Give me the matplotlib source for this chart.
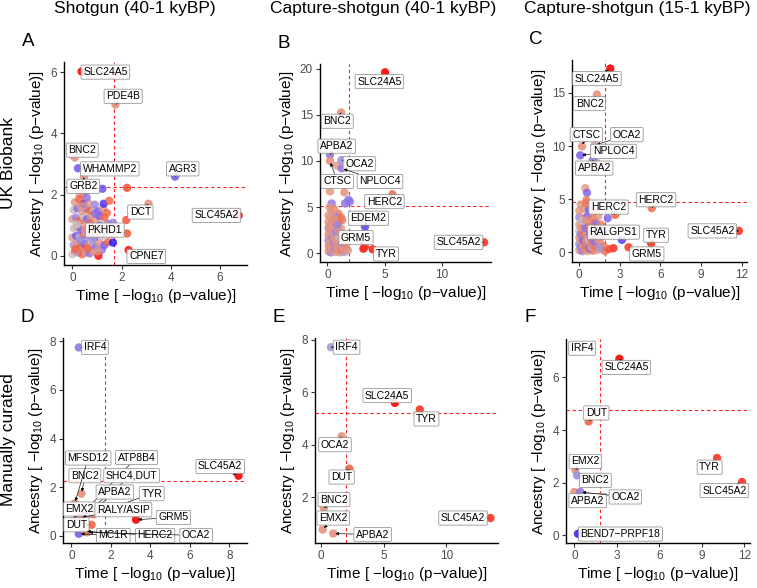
import matplotlib
matplotlib.use('Agg')
import matplotlib.pyplot as plt
from matplotlib.colors import LinearSegmentedColormap

plt.rcParams['font.family'] = ['Liberation Sans', 'DejaVu Sans']
plt.rcParams['mathtext.default'] = 'regular'

# ---------------- DATA ----------------
col_titles = ["Shotgun (40-1 kyBP)", "Capture-shotgun (40-1 kyBP)", "Capture-shotgun (15-1 kyBP)"]
row_titles = ["UK Biobank", "Manually curated"]
panel_letters = ["A", "B", "C", "D", "E", "F"]

# Panel A : UK Biobank, shotgun 40-1 kyBP
a_bg_time = [0.00, 0.10, 0.25, 0.40, 0.55, 0.70, 0.85, 1.06, 1.20,
             0.05, 0.20, 0.35, 0.50, 0.65, 0.80, 0.95, 1.10, 1.30, 1.45,
             0.00, 0.15, 0.30, 0.45, 0.60, 0.75, 0.90, 1.05, 1.20, 1.35, 1.55,
             0.05, 0.20, 0.35, 0.50, 0.65, 0.80, 0.95, 1.10, 1.25, 1.45, 1.65,
             0.00, 0.15, 0.30, 0.45, 0.60, 0.75, 0.95, 1.10, 1.30,
             0.05, 0.20, 0.40, 0.55, 0.70, 0.90, 1.05, 1.25, 1.40,
             0.10, 0.44, 0.65, 0.91, 1.27, 1.50, 0.45, 1.22, 0.30,
             0.12, 0.32, 0.52, 0.72, 0.92, 0.18, 0.38, 0.62, 0.82, 1.02, 0.28, 0.58,
             2.22, 2.19, 1.65]
a_bg_anc = [0.05, 0.15, 0.10, 0.05, 0.12, 0.08, 0.15, 0.00, 0.20,
            0.35, 0.40, 0.30, 0.38, 0.32, 0.40, 0.30, 0.42, 0.35, 0.45,
            0.60, 0.65, 0.58, 0.70, 0.62, 0.68, 0.60, 0.72, 0.65, 0.75, 0.70,
            0.90, 0.95, 0.85, 0.98, 0.90, 0.95, 0.88, 1.00, 0.95, 1.05, 1.08,
            1.20, 1.25, 1.15, 1.30, 1.20, 1.28, 1.20, 1.30, 1.25,
            1.50, 1.55, 1.45, 1.55, 1.48, 1.50, 1.45, 1.55, 1.40,
            1.75, 1.70, 1.72, 1.67, 1.70, 1.80, 2.05, 2.19, 2.00,
            0.22, 0.50, 0.78, 1.05, 1.38, 1.02, 1.62, 0.25, 0.52, 0.15, 1.85, 1.90,
            2.22, 1.17, 0.43]
a_bg_col = [0.0, 0.4, -0.3, 0.7, 0.4, -0.5, 0.4, 1.0, -0.5,
            -0.3, 0.4, 0.7, -0.6, 0.4, 0.0, -0.5, 0.4, -0.6, 0.7,
            0.4, -0.6, 0.0, 0.7, -0.4, 0.4, -0.6, 0.7, 0.0, -0.6, 0.4,
            0.0, 0.4, -0.6, 0.4, 0.7, -0.5, 0.4, -0.6, 0.7, -0.4, -0.4,
            0.4, -0.4, 0.7, 0.0, -0.6, 0.4, 0.4, -0.6, 0.7,
            0.0, -0.5, 0.4, -0.4, 0.7, 0.0, -0.6, 0.4, 0.7,
            0.4, -0.9, 0.4, -0.4, -0.85, 0.7, 0.7, -0.7, 0.4,
            0.7, -0.4, 0.4, 0.7, -0.5, 0.0, 0.4, 0.7, -0.3, 0.4, 0.7, -0.5,
            0.8, 0.8, -1.0]
a_genes = ["SLC24A5", "PDE4B", "BNC2", "WHAMMP2", "AGR3", "GRB2", "DCT", "SLC45A2", "PKHD1", "CPNE7"]
a_time = [0.375, 1.75, 0.09, 0.23, 4.17, 0.47, 3.09, 6.75, 2.22, 2.28]
a_anc = [6.02, 4.94, 3.21, 2.86, 2.59, 2.57, 1.70, 1.32, 0.73, 0.19]
a_col = [1.0, 0.45, 0.45, -0.6, -0.6, 0.4, 0.45, 1.0, 0.7, 0.9]
a_vline, a_hline = 1.68, 2.24

# Panel B : UK Biobank, capture-shotgun 40-1 kyBP
b_bg_time = [0.15, 0.23, 1.49, 0.38, 1.55, 1.84, 1.98, 0.82, 0.96, 3.00, 3.15,
             0.1, 0.3, 0.5, 0.7, 0.9, 1.1, 1.3, 1.5, 1.8,
             0.1, 0.3, 0.5, 0.7, 0.9, 1.1, 1.3, 1.6,
             0.1, 0.3, 0.5, 0.7, 0.9, 1.1, 1.3,
             0.1, 0.3, 0.5, 0.7, 0.9, 1.2, 1.5,
             0.1, 0.3, 0.6, 0.9, 1.2,
             0.1, 0.4, 0.7, 1.0, 1.3,
             0.1, 0.4, 0.7, 1.2,
             0.2, 0.6,
             0.2, 0.4, 0.6, 0.8, 1.0, 1.2, 1.4,
             0.2, 0.4, 0.6, 0.8, 1.0, 1.2, 1.45,
             0.2, 0.4, 0.6, 0.8, 1.0, 1.25,
             0.2, 0.45, 0.75, 1.0,
             0.2, 0.55, 0.85, 0.25, 0.55, 0.35]
b_bg_anc = [7.7, 6.7, 6.6, 5.4, 5.4, 5.8, 5.6, 9.5, 4.3, 3.8, 0.5,
            0.2, 0.1, 0.3, 0.15, 0.2, 0.1, 0.25, 0.15, 0.3,
            0.8, 0.7, 0.9, 0.8, 0.6, 0.85, 0.7, 0.9,
            1.4, 1.5, 1.3, 1.5, 1.4, 1.3, 1.5,
            2.0, 2.1, 2.2, 2.0, 2.2, 2.1, 2.0,
            2.7, 2.8, 2.6, 2.8, 2.7,
            3.4, 3.3, 3.5, 3.3, 3.6,
            4.1, 4.2, 4.0, 3.9,
            5.0, 4.8,
            0.5, 0.45, 0.55, 0.4, 0.5, 0.45, 0.5,
            1.1, 1.0, 1.15, 1.1, 1.05, 1.1, 1.2,
            1.75, 1.8, 1.7, 1.75, 1.8, 1.7,
            2.4, 2.45, 2.35, 2.45,
            3.1, 3.0, 3.1, 3.8, 3.75, 4.6]
b_bg_col = [0.4, 0.45, 0.5, -0.5, -0.5, -0.5, -0.5, 0.4, 0.6, -0.35, 1.0,
            0.4, -0.4, 0.45, 0.4, 0.0, 0.45, 0.4, -0.3, 0.4,
            0.4, -0.5, 0.0, 0.4, -0.4, 0.45, 0.4, 0.6,
            -0.4, 0.4, 0.45, -0.4, 0.4, 0.0, 0.45,
            0.45, 0.0, -0.5, 0.4, 0.45, -0.4, 0.6,
            -0.4, 0.45, 0.4, -0.5, 0.4,
            0.4, -0.4, 0.45, 0.4, 0.6,
            0.45, 0.0, -0.4, 0.6,
            0.4, 0.45,
            0.45, 0.4, -0.4, 0.45, 0.4, 0.6, 0.4,
            0.4, 0.45, -0.4, 0.4, 0.45, -0.3, 0.6,
            0.45, -0.4, 0.4, 0.45, 0.0, 0.4,
            0.4, 0.45, -0.4, 0.4,
            0.45, 0.4, -0.4, 0.4, 0.45, 0.45]
b_genes = ["SLC24A5", "BNC2", "APBA2", "CTSC", "OCA2", "NPLOC4", "HERC2", "EDEM2", "GRM5", "TYR", "SLC45A2"]
b_time = [5.04, 1.20, 0.23, 0.23, 1.25, 1.25, 5.69, 3.29, 3.29, 3.97, 13.7]
b_anc = [19.6, 15.26, 10.67, 10.0, 10.1, 9.2, 6.4, 2.89, 0.72, 0.43, 1.19]
b_col = [1.0, 0.45, -0.45, 0.45, -0.35, -0.45, 0.6, -0.7, 0.85, 0.9, 0.85]
b_vline, b_hline = 1.92, 5.17

# Panel C : UK Biobank, capture-shotgun 15-1 kyBP
c_bg_time = [0.44, 0.57, 0.52, 1.30, 1.18, 2.53, 2.10, 1.80,
             0.0, 0.2, 0.4, 0.6, 0.8, 1.0, 1.3, 1.6, 1.9, 2.2,
             0.0, 0.2, 0.4, 0.6, 0.8, 1.0, 1.2, 1.5, 1.8,
             0.0, 0.2, 0.4, 0.6, 0.8, 1.0, 1.3, 1.6,
             0.0, 0.2, 0.4, 0.7, 0.9, 1.2, 1.5,
             0.0, 0.3, 0.6, 0.9, 1.2, 1.6,
             0.0, 0.3, 0.6, 1.0, 1.4,
             0.0, 0.3, 0.7, 1.1,
             0.1, 0.5,
             0.1, 0.3, 0.5, 0.7, 0.9, 1.15, 1.45,
             0.1, 0.3, 0.5, 0.7, 0.9, 1.1, 1.4,
             0.1, 0.3, 0.55, 0.8, 1.05, 0.15, 0.45, 0.8, 0.2, 0.5]
c_bg_anc = [6.04, 5.6, 4.9, 8.4, 7.6, 0.38, 3.2, 1.8,
            0.2, 0.1, 0.25, 0.1, 0.3, 0.15, 0.2, 0.3, 0.1, 0.3,
            0.8, 0.9, 0.7, 0.9, 0.8, 0.7, 0.9, 0.8, 0.6,
            1.4, 1.5, 1.3, 1.5, 1.4, 1.3, 1.5, 1.4,
            2.0, 2.1, 1.9, 2.1, 2.0, 2.2, 2.0,
            2.6, 2.7, 2.5, 2.7, 2.8, 2.6,
            3.3, 3.2, 3.4, 3.2, 3.4,
            3.9, 4.1, 4.0, 3.9,
            4.5, 4.6,
            0.5, 0.45, 0.55, 0.5, 0.45, 0.55, 0.5,
            1.1, 1.15, 1.05, 1.2, 1.1, 1.05, 1.15,
            1.7, 1.75, 1.7, 1.75, 1.7, 2.35, 2.3, 2.35, 2.95, 3.0]
c_bg_col = [0.4, -0.6, 0.6, 0.45, 0.4, 0.9, -0.6, -0.6,
            0.4, -0.4, 0.6, 0.4, -0.6, 0.6, 0.45, -0.3, 0.6, 0.8,
            -0.4, 0.4, 0.0, -0.6, 0.4, 0.6, -0.5, 0.45, 0.6,
            0.45, -0.6, 0.4, 0.0, 0.6, -0.6, 0.4, 0.6,
            0.0, 0.45, -0.6, 0.4, -0.5, 0.6, -0.6,
            0.4, -0.6, 0.6, 0.45, -0.6, 0.6,
            -0.4, 0.4, -0.6, 0.6, 0.45,
            0.45, 0.4, -0.6, 0.6,
            0.4, 0.6,
            -0.4, 0.45, 0.6, -0.5, 0.4, 0.6, -0.3,
            0.4, -0.6, 0.45, 0.0, 0.6, -0.5, 0.4,
            -0.4, 0.6, 0.4, -0.6, 0.45, 0.4, -0.5, 0.6, 0.0, 0.45]
c_genes = ["SLC24A5", "BNC2", "CTSC", "OCA2", "NPLOC4", "APBA2", "HERC2", "HERC2", "RALGPS1", "TYR", "GRM5", "SLC45A2"]
c_time = [2.29, 1.30, 0.20, 1.13, 0.07, 1.00, 5.36, 2.66, 3.15, 5.31, 3.64, 11.8]
c_anc = [17.3, 14.85, 9.97, 10.06, 9.12, 8.7, 4.15, 3.52, 1.16, 0.85, 0.47, 2.01]
c_col = [1.0, 0.45, 0.45, 0.2, -0.55, -0.45, 0.6, 0.65, -0.7, 0.85, 0.8, 0.85]
c_vline, c_hline = 1.87, 4.72

# Panel D : manually curated, shotgun 40-1 kyBP
d_genes = ["IRF4", "SLC45A2", "GRM5", "BNC2", "MFSD12", "ATP8B4", "SHC4,DUT", "APBA2", "TYR",
           "EMX2", "RALY/ASIP", "DUT", "MC1R", "HERC2", "OCA2"]
d_time = [0.37, 8.47, 3.27, 0.51, 0.17, 0.42, 0.55, 0.93, 1.10, 0.07, 0.45, 1.02, 0.37, 0.68, 0.80]
d_anc = [7.75, 2.47, 0.66, 1.73, 1.34, 0.80, 0.82, 0.91, 0.88, 0.62, 0.75, 0.45, 0.08, 0.18, 0.14]
d_col = [-0.45, 1.0, 1.0, 0.45, 0.45, 0.45, 0.45, -0.45, 0.6, 0.4, 0.45, 0.7, -0.6, 0.45, 0.5]
d_vline, d_hline = 1.69, 2.24

# Panel E : manually curated, capture-shotgun 40-1 kyBP
e_genes = ["IRF4", "SLC24A5", "TYR", "OCA2", "DUT", "BNC2", "EMX2", "APBA2", "SLC45A2"]
e_time = [0.82, 5.90, 7.88, 1.67, 2.28, 0.26, 0.16, 1.00, 13.5]
e_anc = [7.71, 5.59, 5.34, 4.32, 3.09, 1.59, 0.77, 0.62, 1.21]
e_col = [-0.3, 1.0, 0.85, 0.45, 0.7, 0.45, 0.45, 0.45, 0.85]
e_vline, e_hline = 1.98, 5.20

# Panel F : manually curated, capture-shotgun 15-1 kyBP
f_genes = ["IRF4", "SLC24A5", "DUT", "EMX2", "BNC2", "APBA2", "OCA2", "BEND7\u2212PRPF18", "TYR", "SLC45A2"]
f_time = [0.85, 3.18, 1.01, 0.07, 0.19, 0.00, 0.42, 0.26, 10.07, 11.84]
f_anc = [7.11, 6.71, 4.33, 2.49, 2.28, 1.65, 1.65, 0.06, 2.94, 2.03]
f_col = [-0.3, 1.0, 0.7, 0.45, -0.35, 0.45, -0.45, -0.9, 0.85, 0.85]
f_vline, f_hline = 1.84, 4.76

# ---------------- LAYOUT ----------------
W, H = 757, 588
layout = {
    "A": dict(px=(64, 62, 247, 265), xlim=(-0.34, 7.09), ylim=(-0.3, 6.33),
              xt=[0, 2, 4, 6], yt=[0, 2, 4, 6],
              lab=[(1.34, 6.0), (2.06, 5.21), (0.4, 3.45), (1.52, 2.84), (4.48, 2.84), (0.44, 2.27),
                   (2.76, 1.43), (5.85, 1.32), (1.32, 0.84), (3.0, -0.02)]),
    "B": dict(px=(320, 64, 491, 262), xlim=(-0.64, 14.3), ylim=(-0.94, 20.5),
              xt=[0, 5, 10], yt=[0, 5, 10, 15, 20],
              lab=[(4.55, 18.6), (0.87, 14.3), (0.82, 11.6), (0.87, 7.78), (2.8, 9.7), (4.6, 7.78),
                   (4.99, 5.6), (3.59, 3.8), (2.5, 1.7), (5.13, -0.07), (11.46, 1.19)]),
    "C": dict(px=(572, 60, 747, 262), xlim=(-0.54, 12.4), ylim=(-0.92, 18.1),
              xt=[0, 3, 6, 9, 12], yt=[0, 5, 10, 15],
              lab=[(1.3, 16.35), (0.76, 14.0), (0.52, 11.07), (3.52, 11.07), (2.53, 9.5), (1.1, 7.92),
                   (5.68, 4.94), (2.16, 4.25), (2.53, 1.89), (5.68, 1.6), (4.99, -0.16), (9.84, 2.01)]),
    "D": dict(px=(63, 338, 247, 543), xlim=(-0.43, 8.9), ylim=(-0.3, 8.14),
              xt=[0, 2, 4, 6, 8], yt=[0, 2, 4, 6, 8],
              lab=[(1.19, 7.75), (7.54, 2.85), (5.17, 0.75), (0.68, 2.47), (0.85, 3.2), (3.3, 3.22),
                   (3.05, 2.47), (2.2, 1.80), (4.07, 1.73), (0.42, 1.1), (2.63, 1.07), (0.25, 0.45),
                   (2.12, 0.01), (4.24, 0.01), (6.32, 0.01)]),
    "E": dict(px=(315, 338, 498, 543), xlim=(-0.45, 14.1), ylim=(0.26, 8.06),
              xt=[0, 5, 10], yt=[2, 4, 6, 8],
              lab=[(2.06, 7.71), (5.29, 5.87), (8.41, 4.98), (1.14, 4.0), (1.67, 2.77), (1.06, 1.91),
                   (1.0, 1.21), (4.13, 0.58), (11.32, 1.21)]),
    "F": dict(px=(566, 339, 750, 543), xlim=(-0.59, 12.4), ylim=(-0.29, 7.46),
              xt=[0, 3, 6, 9, 12], yt=[0, 2, 4, 6],
              lab=[(0.54, 7.11), (3.67, 6.38), (1.55, 4.65), (0.78, 2.81), (1.48, 2.09), (0.94, 1.32),
                   (3.6, 1.46), (3.25, 0.05), (9.55, 2.59), (10.59, 1.7)]),
}

panels = {
    "A": ((a_bg_time, a_bg_anc, a_bg_col), a_genes, a_time, a_anc, a_col, a_vline, a_hline),
    "B": ((b_bg_time, b_bg_anc, b_bg_col), b_genes, b_time, b_anc, b_col, b_vline, b_hline),
    "C": ((c_bg_time, c_bg_anc, c_bg_col), c_genes, c_time, c_anc, c_col, c_vline, c_hline),
    "D": (None, d_genes, d_time, d_anc, d_col, d_vline, d_hline),
    "E": (None, e_genes, e_time, e_anc, e_col, e_vline, e_hline),
    "F": (None, f_genes, f_time, f_anc, f_col, f_vline, f_hline),
}

cmap = LinearSegmentedColormap.from_list("bgr", [
    (0.0, "#1f10ff"), (0.2, "#7a5ce8"), (0.35, "#a898dc"), (0.5, "#c6bec4"),
    (0.72, "#e5937f"), (0.86, "#f2603e"), (1.0, "#ff0000")])

def colors(vals):
    return [cmap((v + 1) / 2) for v in vals]

fig = plt.figure(figsize=(W / 100, H / 100), dpi=100)

xlabel = "Time [ $-$log$_{10}$ (p$-$value)]"
ylabel = "Ancestry [ $-$log$_{10}$ (p$-$value)]"

for key in panel_letters:
    L = layout[key]
    l, t, r, b = L["px"]
    ax = fig.add_axes([l / W, 1 - b / H, (r - l) / W, (b - t) / H])
    bg, genes, gx, gy, gc, vl, hl = panels[key]
    if bg is not None:
        ax.scatter(bg[0], bg[1], c=colors(bg[2]), s=36, alpha=0.8, edgecolors="none", zorder=2)
    ax.scatter(gx, gy, c=colors(gc), s=36, alpha=0.9, edgecolors="none", zorder=3)
    ax.axvline(vl, color="#ff2020", ls=(0, (3, 2.5)), lw=0.8, zorder=1)
    ax.axhline(hl, color="#ff2020", ls=(0, (3, 2.5)), lw=0.8, zorder=1)
    for i, g in enumerate(genes):
        lx, ly = L["lab"][i]
        ax.annotate(g, xy=(gx[i], gy[i]), xytext=(lx, ly), textcoords="data",
                    fontsize=7.5, ha="center", va="center", zorder=5,
                    bbox=dict(boxstyle="round,pad=0.2,rounding_size=0.12", fc="white", ec="#8c8c8c",
                              lw=0.6, alpha=0.9),
                    arrowprops=dict(arrowstyle="-|>,head_length=0.25,head_width=0.12", color="black",
                                    lw=0.45, shrinkA=0, shrinkB=1.5))
    ax.set_xlim(*L["xlim"])
    ax.set_ylim(*L["ylim"])
    ax.set_xticks(L["xt"])
    ax.set_yticks(L["yt"])
    for s in ["top", "right"]:
        ax.spines[s].set_visible(False)
    for s in ["left", "bottom"]:
        ax.spines[s].set_linewidth(1.0)
        ax.spines[s].set_color("black")
    ax.tick_params(axis="both", labelsize=8.5, labelcolor="#4d4d4d", color="#333333",
                   length=3, width=0.8, pad=2)
    ax.set_xlabel(xlabel, fontsize=11, labelpad=2)
    ax.set_ylabel(ylabel, fontsize=11, labelpad=3)
    fig.text((l - 36) / W, 1 - (t - 21) / H, key, fontsize=13.5, ha="center", va="center")

col_x = [135, 383, 637]
for i, tt in enumerate(col_titles):
    fig.text(col_x[i] / W, 1 - 9 / H, tt, fontsize=12.5, ha="center", va="center")
fig.text(9 / W, 1 - 163 / H, row_titles[0], fontsize=12.5, rotation=90, ha="center", va="center")
fig.text(9 / W, 1 - 440 / H, row_titles[1], fontsize=12.5, rotation=90, ha="center", va="center")

fig.savefig("out.png", dpi=100)
